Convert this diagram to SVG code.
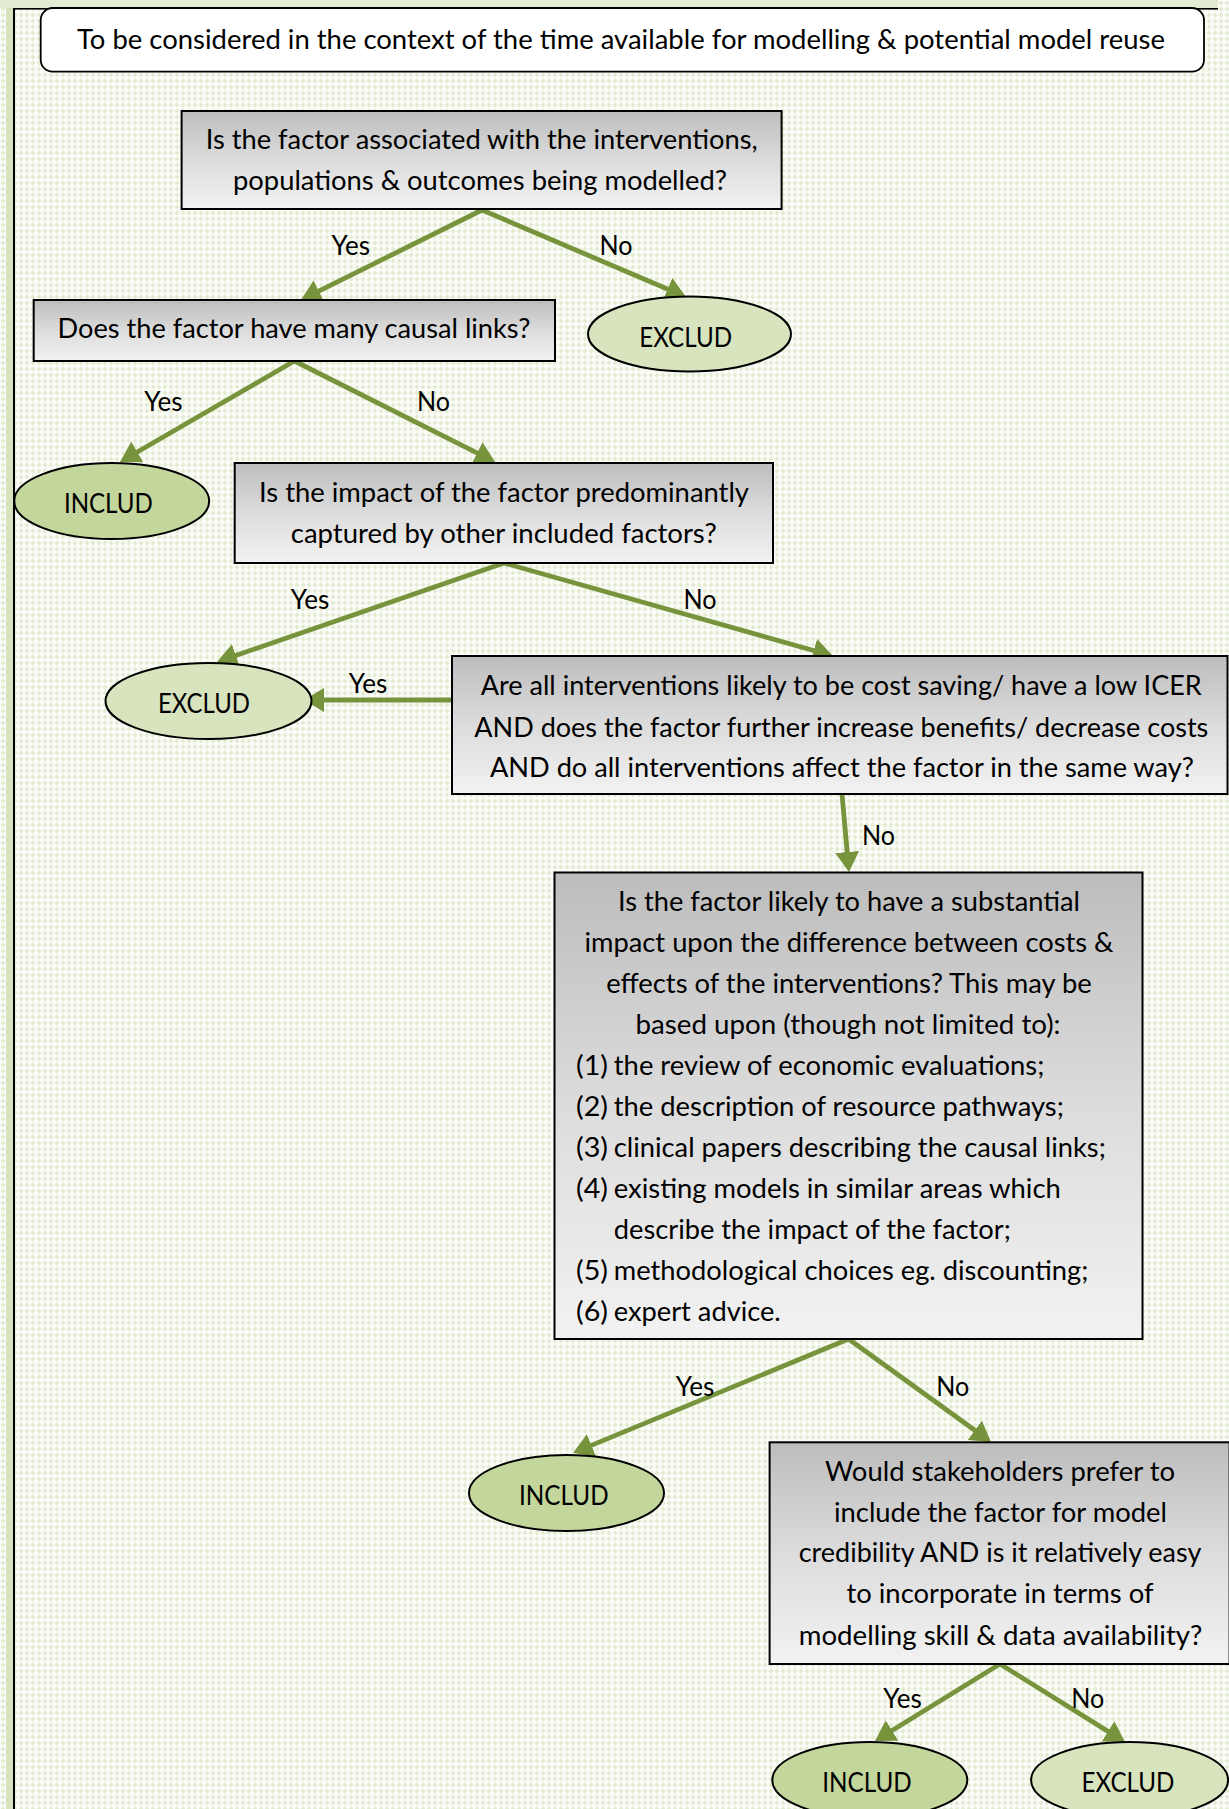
<svg xmlns="http://www.w3.org/2000/svg" width="1229" height="1809" viewBox="0 0 1229 1809">
<style>
.t{font-family:Lato,'Liberation Sans',sans-serif;font-size:26px;fill:#000}
.c{text-anchor:middle}
.box{fill:url(#gray);stroke:#000;stroke-width:2}
.inc{fill:#c3d69b;stroke:#000;stroke-width:2}
.exc{fill:#d7e4bd;stroke:#000;stroke-width:2}
.arr{fill:none;stroke:#77933c;stroke-width:4.8;marker-end:url(#head)}
</style>
<defs>
<pattern id="bg" width="6" height="6" patternUnits="userSpaceOnUse">
<rect width="6" height="6" fill="#fbfcf8"/>
<path d="M3,0.6 L5.4,3 L3,5.4 L0.6,3 Z" fill="#e3ebd1"/>
</pattern>
<linearGradient id="gray" x1="0" y1="0" x2="0" y2="1">
<stop offset="0" stop-color="#bdbdbd"/>
<stop offset="0.5" stop-color="#dcdcdc"/>
<stop offset="1" stop-color="#f2f2f2"/>
</linearGradient>
<marker id="head" viewBox="0 0 20 24" refX="8" refY="12" markerWidth="20" markerHeight="24" markerUnits="userSpaceOnUse" orient="auto">
<path d="M0,0 L20,12 L0,24 Z" fill="#77933c"/>
</marker>
</defs>
<rect width="1229" height="1809" fill="url(#bg)"/>
<rect x="0" y="0" width="1218" height="8" fill="#e4ecd3"/>
<rect x="6" y="8" width="7" height="1801" fill="#d6e3bc"/>
<rect x="13" y="8" width="2" height="1801" fill="#000"/>
<rect x="13" y="8" width="1205" height="1.6" fill="#000"/>

<g id="connectors">
<path class="arr" d="M482,210 L311.7,294.7"/>
<path class="arr" d="M482,210 L675,292.3"/>
<path class="arr" d="M294.4,361 L130.4,456"/>
<path class="arr" d="M294.4,361 L484.3,456.6"/>
<path class="arr" d="M504,563 L228.3,658.1"/>
<path class="arr" d="M504,563 L821.5,652.7"/>
<path class="arr" d="M452,700 L316,700"/>
<path class="arr" d="M842,794 L847.9,860"/>
<path class="arr" d="M848.6,1339 L584.1,1448.4"/>
<path class="arr" d="M848.6,1339 L981.3,1435"/>
<path class="arr" d="M1000,1664 L885.2,1734.7"/>
<path class="arr" d="M1000,1664 L1114.8,1735.6"/>
<text class="t c" x="350.8" y="255" textLength="38.5" lengthAdjust="spacingAndGlyphs">Yes</text>
<text class="t c" x="616" y="255" textLength="33" lengthAdjust="spacingAndGlyphs">No</text>
<text class="t c" x="163.4" y="410.7" textLength="38.5" lengthAdjust="spacingAndGlyphs">Yes</text>
<text class="t c" x="433.5" y="410.7" textLength="33" lengthAdjust="spacingAndGlyphs">No</text>
<text class="t c" x="310" y="609" textLength="38.5" lengthAdjust="spacingAndGlyphs">Yes</text>
<text class="t c" x="700" y="609" textLength="33" lengthAdjust="spacingAndGlyphs">No</text>
<text class="t c" x="368" y="693" textLength="38.5" lengthAdjust="spacingAndGlyphs">Yes</text>
<text class="t c" x="878.5" y="845" textLength="33" lengthAdjust="spacingAndGlyphs">No</text>
<text class="t c" x="695" y="1396" textLength="38.5" lengthAdjust="spacingAndGlyphs">Yes</text>
<text class="t c" x="952.7" y="1396" textLength="33" lengthAdjust="spacingAndGlyphs">No</text>
<text class="t c" x="902.5" y="1708" textLength="38.5" lengthAdjust="spacingAndGlyphs">Yes</text>
<text class="t c" x="1087.8" y="1708" textLength="33" lengthAdjust="spacingAndGlyphs">No</text>
</g>

<g id="context">
<rect x="40.7" y="8" width="1163.3" height="63.7" rx="12" fill="#fff" stroke="#000" stroke-width="1.8"/>
<text class="t c" x="621" y="48.5" textLength="1088" lengthAdjust="spacingAndGlyphs">To be considered in the context of the time available for modelling &amp; potential model reuse</text>
</g>

<g id="q1">
<rect class="box" x="181.6" y="111" width="600" height="98"/>
<text class="t c" x="481.7" y="149.3" textLength="552" lengthAdjust="spacingAndGlyphs">Is the factor associated with the interventions,</text>
<text class="t c" x="480" y="190" textLength="494" lengthAdjust="spacingAndGlyphs">populations &amp; outcomes being modelled?</text>
</g>

<g id="q2">
<rect class="box" x="33.7" y="300" width="521.3" height="61"/>
<text class="t c" x="294" y="338.3" textLength="473" lengthAdjust="spacingAndGlyphs">Does the factor have many causal links?</text>
</g>

<g id="exclude1">
<ellipse class="exc" cx="689.5" cy="334" rx="101.5" ry="37.5"/>
<text class="t c" x="685.7" y="346.7" textLength="93" lengthAdjust="spacingAndGlyphs">EXCLUD</text>
</g>

<g id="include1">
<ellipse class="inc" cx="111.7" cy="501" rx="97.5" ry="38"/>
<text class="t c" x="108.4" y="513" textLength="89" lengthAdjust="spacingAndGlyphs">INCLUD</text>
</g>

<g id="q3">
<rect class="box" x="234.7" y="463" width="538.3" height="100"/>
<text class="t c" x="504" y="501.7" textLength="490" lengthAdjust="spacingAndGlyphs">Is the impact of the factor predominantly</text>
<text class="t c" x="503.8" y="542.7" textLength="426" lengthAdjust="spacingAndGlyphs">captured by other included factors?</text>
</g>

<g id="exclude2">
<ellipse class="exc" cx="208.5" cy="701" rx="103" ry="38"/>
<text class="t c" x="204" y="713" textLength="92" lengthAdjust="spacingAndGlyphs">EXCLUD</text>
</g>

<g id="q4">
<rect class="box" x="452" y="656" width="775.5" height="138"/>
<text class="t c" x="841.3" y="695" textLength="721" lengthAdjust="spacingAndGlyphs">Are all interventions likely to be cost saving/ have a low ICER</text>
<text class="t c" x="841.3" y="736.7" textLength="734" lengthAdjust="spacingAndGlyphs">AND does the factor further increase benefits/ decrease costs</text>
<text class="t c" x="841.9" y="776.7" textLength="704" lengthAdjust="spacingAndGlyphs">AND do all interventions affect the factor in the same way?</text>
</g>

<g id="q5">
<rect class="box" x="554.5" y="872.5" width="588" height="466.5"/>
<text class="t c" x="849" y="911" textLength="462" lengthAdjust="spacingAndGlyphs">Is the factor likely to have a substantial</text>
<text class="t c" x="849" y="952" textLength="529" lengthAdjust="spacingAndGlyphs">impact upon the difference between costs &amp;</text>
<text class="t c" x="849" y="993" textLength="485.5" lengthAdjust="spacingAndGlyphs">effects of the interventions? This may be</text>
<text class="t c" x="848" y="1034" textLength="425" lengthAdjust="spacingAndGlyphs">based upon (though not limited to):</text>
<text class="t" x="576" y="1075" textLength="32" lengthAdjust="spacingAndGlyphs">(1)</text>
<text class="t" x="613.8" y="1075" textLength="430.6" lengthAdjust="spacingAndGlyphs">the review of economic evaluations;</text>
<text class="t" x="576" y="1116" textLength="32" lengthAdjust="spacingAndGlyphs">(2)</text>
<text class="t" x="613.8" y="1116" textLength="450" lengthAdjust="spacingAndGlyphs">the description of resource pathways;</text>
<text class="t" x="576" y="1157" textLength="32" lengthAdjust="spacingAndGlyphs">(3)</text>
<text class="t" x="613.8" y="1157" textLength="492" lengthAdjust="spacingAndGlyphs">clinical papers describing the causal links;</text>
<text class="t" x="576" y="1198" textLength="32" lengthAdjust="spacingAndGlyphs">(4)</text>
<text class="t" x="613.8" y="1198" textLength="447" lengthAdjust="spacingAndGlyphs">existing models in similar areas which</text>
<text class="t" x="613.8" y="1239" textLength="397" lengthAdjust="spacingAndGlyphs">describe the impact of the factor;</text>
<text class="t" x="576" y="1280" textLength="32" lengthAdjust="spacingAndGlyphs">(5)</text>
<text class="t" x="613.8" y="1280" textLength="474.5" lengthAdjust="spacingAndGlyphs">methodological choices eg. discounting;</text>
<text class="t" x="576" y="1321" textLength="32" lengthAdjust="spacingAndGlyphs">(6)</text>
<text class="t" x="613.8" y="1321" textLength="167" lengthAdjust="spacingAndGlyphs">expert advice.</text>
</g>

<g id="include2">
<ellipse class="inc" cx="566.5" cy="1493" rx="97.5" ry="38"/>
<text class="t c" x="563.8" y="1505" textLength="89.6" lengthAdjust="spacingAndGlyphs">INCLUD</text>
</g>

<g id="q6">
<rect class="box" x="769.6" y="1442.3" width="460" height="221.7"/>
<text class="t c" x="1000" y="1480.7" textLength="350" lengthAdjust="spacingAndGlyphs">Would stakeholders prefer to</text>
<text class="t c" x="1000.5" y="1521.7" textLength="333" lengthAdjust="spacingAndGlyphs">include the factor for model</text>
<text class="t c" x="1000" y="1562.3" textLength="402.6" lengthAdjust="spacingAndGlyphs">credibility AND is it relatively easy</text>
<text class="t c" x="1000" y="1603" textLength="307" lengthAdjust="spacingAndGlyphs">to incorporate in terms of</text>
<text class="t c" x="1000.6" y="1645" textLength="403.7" lengthAdjust="spacingAndGlyphs">modelling skill &amp; data availability?</text>
</g>

<g id="include3">
<ellipse class="inc" cx="869.8" cy="1780" rx="97.5" ry="38"/>
<text class="t c" x="867" y="1791.7" textLength="89.5" lengthAdjust="spacingAndGlyphs">INCLUD</text>
</g>

<g id="exclude3">
<ellipse class="exc" cx="1129.6" cy="1780" rx="98.5" ry="38"/>
<text class="t c" x="1128" y="1791.5" textLength="93" lengthAdjust="spacingAndGlyphs">EXCLUD</text>
</g>
</svg>
